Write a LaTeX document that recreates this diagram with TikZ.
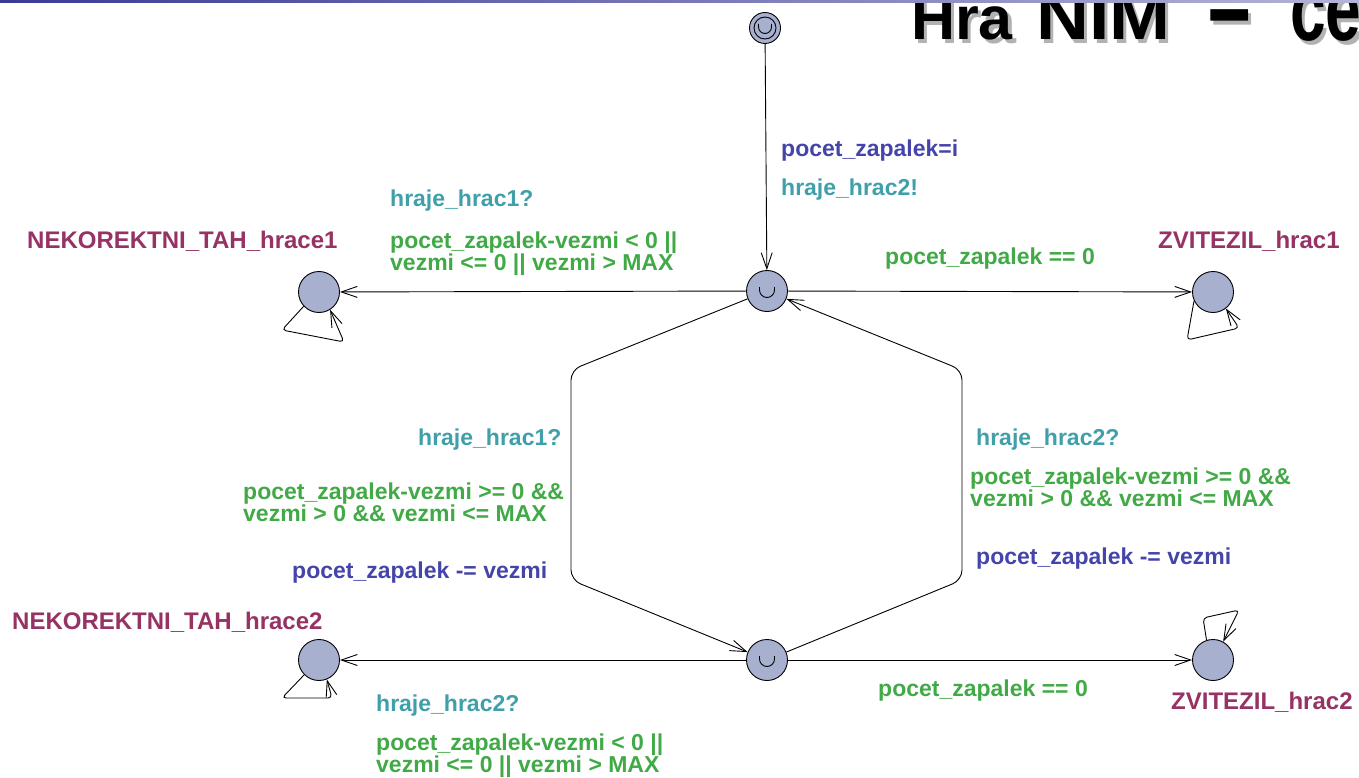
\documentclass[tikz,border=0pt]{standalone}
\usepackage{fontspec}
\setmainfont{Liberation Sans}
\usetikzlibrary{arrows.meta,calc}
\definecolor{locfill}{RGB}{168,176,208}
\definecolor{locname}{RGB}{150,50,100}
\definecolor{synccol}{RGB}{64,160,170}
\definecolor{guardcol}{RGB}{65,170,70}
\definecolor{assigncol}{RGB}{68,68,170}
\definecolor{barleft}{RGB}{58,58,150}
\definecolor{barright}{RGB}{180,180,215}
\begin{document}
\begin{tikzpicture}[x=1pt,y=-1pt,
  urgmark/.style={path picture={
      \draw[line width=0.9pt] ([xshift=-7.5pt,yshift=4pt]path picture bounding box.center)
        -- ++(0,-3pt) arc[start angle=180,end angle=360,radius=7.5pt] -- ++(0,3pt);}},
  loc/.style={circle,draw,fill=locfill,minimum size=41pt,inner sep=0pt,line width=0.9pt},
  urgloc/.style={loc,urgmark},
  initloc/.style={loc,minimum size=31pt,path picture={
      \draw[line width=0.9pt] (path picture bounding box.center) circle[radius=11pt];
      \draw[line width=0.9pt] ([xshift=-6.5pt,yshift=4pt]path picture bounding box.center)
        -- ++(0,-3pt) arc[start angle=180,end angle=360,radius=6.5pt] -- ++(0,3pt);}},
  conn/.style={draw,line width=0.9pt,-{Straight Barb[length=16pt,width=11pt,line width=0.9pt]}},
  selfloop/.style={conn,rounded corners=4pt},
  txtlbl/.style={anchor=base west,inner sep=0pt,font=\fontsize{23}{22}\selectfont\bfseries},
  locnm/.style={txtlbl,font=\fontsize{24}{22}\selectfont\bfseries,text=locname},
  synclbl/.style={txtlbl,text=synccol},
  guardlbl/.style={txtlbl,text=guardcol},
  assignlbl/.style={txtlbl,text=assigncol},
  headline/.style={anchor=base west,inner sep=0pt,font=\fontsize{61}{61}\selectfont\bfseries}
]
\useasboundingbox (0,0) rectangle (1359,778);
\clip (0,0) rectangle (1359,778);
\fill[white] (0,0) rectangle (1359,778);

% heading, partly cut off at the top edge, with its drop shadow
\foreach \dx/\col in {3.5/black!30,0/black}{
  \node[headline,text=\col] (tH\dx) at (911+\dx,40+\dx) {Hra};
  \node[headline,text=\col] (tN\dx) at (1036+\dx,40+\dx) {\scalebox{1.2}[1.1]{NIM}};
  \node[headline,text=\col] (tD\dx) at (1208+\dx,47+\dx) {\scalebox{1.25}[1.9]{–}};
  \node[headline,text=\col] (tC\dx) at (1290+\dx,41+\dx) {\scalebox{1.05}[1.5]{ce}};
}
\shade[left color=barleft,right color=barright] (0,0) rectangle (1359,2.5);

% locations
\node[initloc] (init) at (765,28) {};
\node[urgloc] (c1) at (767,291) {};
\node[urgloc] (c2) at (767,660) {};
\node[loc] (n1) at (319,292) {};
\node[loc] (n2) at (319,660) {};
\node[loc] (z1) at (1213,292) {};
\node[loc] (z2) at (1213,660) {};

% location names
\node[locnm] (ln1) at (27,248) {NEKOREKTNI\_TAH\_hrace1};
\node[locnm] (ln2) at (12,629) {NEKOREKTNI\_TAH\_hrace2};
\node[locnm] (lz1) at (1158,248) {ZVITEZIL\_hrac1};
\node[locnm] (lz2) at (1171,709) {ZVITEZIL\_hrac2};

% bend points of the two side edges
\coordinate (lt) at (571,370);
\coordinate (lb) at (571,580);
\coordinate (rt) at (962,370);
\coordinate (rb) at (962,580);

% edges
\draw[conn] (init) -- (c1);
\draw[conn] (c1) -- (n1);
\draw[conn] (c1) -- (z1);
\draw[conn] (c2) -- (n2);
\draw[conn] (c2) -- (z2);
\draw[conn,rounded corners=10pt] (c1) -- (lt) -- (lb) -- (c2);
\draw[conn,rounded corners=10pt] (c2) -- (rb) -- (rt) -- (c1);

% self loops
\draw[selfloop] (n1.223) -- (282,330) -- (344,342) -- (n1.-58);
\draw[selfloop] (z1.205) -- (1187,340) -- (1239,328) -- (z1.-52);
\draw[selfloop] (n2.225) -- (282,698) -- (332,698) -- (n2.-68);
\draw[selfloop] (z2.108) -- (1203,618) -- (1239,610) -- (z2.61);

% labels of the initial edge
\node[assignlbl] (a0) at (781,157) {pocet\_zapalek=i};
\node[synclbl] (s0) at (781,196) {hraje\_hrac2!};

% labels of c1 -> n1
\node[synclbl] (s1) at (390,207) {hraje\_hrac1?};
\node[guardlbl] (g1a) at (390,248) {pocet\_zapalek-vezmi < 0 ||};
\node[guardlbl] (g1b) at (390,270) {vezmi <= 0 || vezmi > MAX};

% labels of c1 -> z1
\node[guardlbl] (g2) at (885,264) {pocet\_zapalek == 0};

% labels of c1 -> c2
\node[synclbl] (s3) at (418,445) {hraje\_hrac1?};
\node[guardlbl] (g3a) at (243,499) {pocet\_zapalek-vezmi >= 0 \&\&};
\node[guardlbl] (g3b) at (243,521) {vezmi > 0 \&\& vezmi <= MAX};
\node[assignlbl] (a3) at (292,578) {pocet\_zapalek -= vezmi};

% labels of c2 -> c1
\node[synclbl] (s4) at (976,445) {hraje\_hrac2?};
\node[guardlbl] (g4a) at (970,484) {pocet\_zapalek-vezmi >= 0 \&\&};
\node[guardlbl] (g4b) at (970,506) {vezmi > 0 \&\& vezmi <= MAX};
\node[assignlbl] (a4) at (976,564) {pocet\_zapalek -= vezmi};

% labels of c2 -> n2
\node[synclbl] (s5) at (376,711) {hraje\_hrac2?};
\node[guardlbl] (g5a) at (376,750) {pocet\_zapalek-vezmi < 0 ||};
\node[guardlbl] (g5b) at (376,772) {vezmi <= 0 || vezmi > MAX};

% labels of c2 -> z2
\node[guardlbl] (g6) at (878,696) {pocet\_zapalek == 0};
\end{tikzpicture}
\end{document}
